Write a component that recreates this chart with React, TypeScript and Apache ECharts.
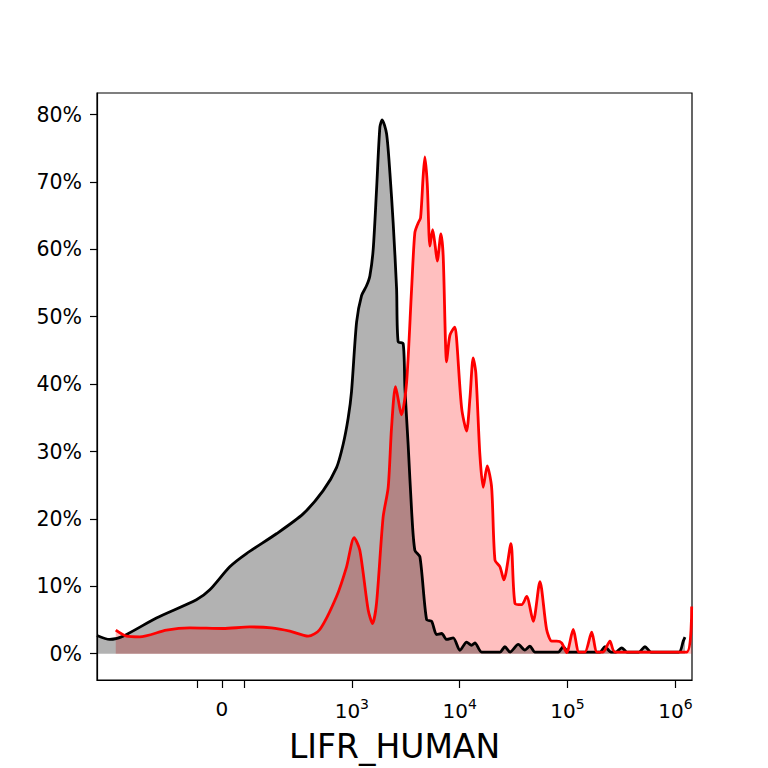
import React, { useEffect, useRef } from 'react';
import * as echarts from 'echarts';

// x positions are in display units of the biexponential axis (one unit = one decade)
const xTickValues = [1.565, 1.794, 2.001, 3, 4, 5, 6];
const xLabelValues = [1.794, 3, 4, 5, 6];
const xLabelTexts = ['{z|0}', '{b|10}{s|3}', '{b|10}{s|4}', '{b|10}{s|5}', '{b|10}{s|6}'];
const yTickValues = [0, 10, 20, 30, 40, 50, 60, 70, 80];

// control sample (black) — [display x, % of max]
const controlCurve: [number, number][] = [
    [0.637, 2.71], [0.755, 2.12], [0.878, 2.6], [1.188, 5.3], [1.559, 8.0],
    [1.683, 9.48], [1.868, 12.9], [2.023, 14.86], [2.301, 17.8], [2.548, 20.75],
    [2.734, 24.19], [2.858, 27.62], [2.919, 31.05], [2.966, 34.98], [2.997, 38.9],
    [3.044, 49.2], [3.09, 53.12], [3.136, 54.59], [3.167, 56.06], [3.198, 59.99],
    [3.229, 68.82], [3.26, 78.13], [3.281, 79.22], [3.322, 77.16], [3.353, 71.32],
    [3.383, 63.96], [3.415, 54.1], [3.429, 46.31], [3.476, 46.01], [3.492, 39.39],
    [3.522, 31.05], [3.554, 21.25], [3.584, 15.36], [3.631, 14.38], [3.693, 5.06],
    [3.74, 4.81], [3.786, 2.85], [3.833, 3.0], [3.879, 2.12], [3.94, 2.35],
    [4.002, 0.5], [4.064, 1.72], [4.11, 1.24], [4.141, 1.62], [4.203, 0.25],
    [4.373, 0.25], [4.419, 1.03], [4.466, 0.25], [4.543, 1.38], [4.605, 0.54],
    [4.651, 1.13], [4.698, 0.25], [4.914, 0.25], [4.96, 1.03], [5.008, 0.25],
    [5.3, 0.25], [5.347, 1.03], [5.403, 0.25], [5.449, 0.25], [5.502, 0.88],
    [5.551, 0.25], [5.662, 0.25], [5.718, 1.03], [5.774, 0.25], [6.033, 0.25],
    [6.073, 1.87], [6.089, 2.46],
];

// stained sample (red)
const stainedCurve: [number, number][] = [
    [0.811, 3.49], [0.91, 2.6], [1.033, 2.5], [1.281, 3.49], [1.497, 3.83],
    [1.806, 3.74], [2.054, 3.97], [2.255, 3.83], [2.425, 3.34], [2.595, 2.6],
    [2.703, 3.59], [2.858, 8.49], [2.951, 12.9], [3.021, 17.22], [3.074, 15.36],
    [3.151, 6.53], [3.192, 4.47], [3.229, 7.5], [3.29, 20.26], [3.337, 24.68],
    [3.368, 33.51], [3.405, 39.64], [3.461, 35.46], [3.507, 40.1], [3.554, 54.1],
    [3.584, 62.45], [3.615, 63.92], [3.637, 64.66], [3.661, 70.78], [3.677, 73.72],
    [3.699, 69.81], [3.724, 60.48], [3.749, 62.93], [3.773, 60.48], [3.792, 58.27],
    [3.826, 62.3], [3.847, 59.01], [3.879, 43.32], [3.909, 47.23], [3.955, 48.47],
    [3.971, 46.75], [4.018, 36.45], [4.064, 33.02], [4.095, 37.92], [4.125, 43.91],
    [4.15, 41.6], [4.187, 29.58], [4.218, 24.68], [4.255, 27.87], [4.296, 24.68],
    [4.327, 13.89], [4.373, 12.9], [4.41, 10.95], [4.475, 16.33], [4.512, 7.5],
    [4.574, 7.27], [4.621, 8.49], [4.682, 4.81], [4.744, 10.7], [4.806, 3.59],
    [4.853, 1.87], [4.899, 1.87], [4.945, 1.62], [4.992, 0.15], [5.053, 3.59],
    [5.106, 0.25], [5.161, 0.25], [5.224, 3.19], [5.273, 0.25], [5.329, 0.25],
    [5.393, 1.87], [5.44, 0.25], [6.105, 0.25], [6.151, 7.0],
];

const FONT = 'DejaVu Sans';

const App: React.FC = () => {
    const chartRef = useRef<HTMLDivElement>(null);

    useEffect(() => {
        if (!chartRef.current) return;
        const chart = echarts.init(chartRef.current, undefined, { renderer: 'svg' });

        const option: echarts.EChartsOption = {
            animation: false,
            backgroundColor: '#fff',
            grid: {
                left: 97,
                top: 93,
                right: 76,
                bottom: 84,
                show: true,
                borderColor: '#000',
                borderWidth: 1.2,
                backgroundColor: 'transparent',
            },
            xAxis: {
                type: 'value',
                min: 0.637,
                max: 6.154,
                name: 'LIFR_HUMAN',
                nameLocation: 'middle',
                nameGap: 50,
                nameTextStyle: { fontFamily: FONT, fontSize: 33, color: '#000' },
                axisLine: { show: true, onZero: false, lineStyle: { color: '#000', width: 1.2 } },
                axisTick: {
                    show: true,
                    length: 8,
                    lineStyle: { color: '#000', width: 1.2 },
                    customValues: xTickValues,
                } as any,
                axisLabel: {
                    customValues: xLabelValues,
                    margin: 17,
                    fontFamily: FONT,
                    color: '#000',
                    formatter: (v: number) => {
                        const i = xLabelValues.findIndex((t) => Math.abs(t - v) < 1e-6);
                        return i >= 0 ? xLabelTexts[i] : '';
                    },
                    rich: {
                        z: { fontFamily: FONT, fontSize: 20, color: '#000', verticalAlign: 'middle', lineHeight: 24 },
                        b: { fontFamily: FONT, fontSize: 20, color: '#000', verticalAlign: 'bottom', lineHeight: 24 },
                        s: { fontFamily: FONT, fontSize: 14, color: '#000', verticalAlign: 'top', lineHeight: 24 },
                    },
                } as any,
                splitLine: { show: false },
            },
            yAxis: {
                type: 'value',
                min: -3.9,
                max: 83.2,
                axisLine: { show: true, onZero: false, lineStyle: { color: '#000', width: 1.2 } },
                axisTick: {
                    show: true,
                    length: 7,
                    lineStyle: { color: '#000', width: 1.2 },
                    customValues: yTickValues,
                } as any,
                axisLabel: {
                    customValues: yTickValues,
                    margin: 15,
                    fontFamily: FONT,
                    fontSize: 20.5,
                    color: '#000',
                    formatter: (v: number) => `${v}%`,
                } as any,
                splitLine: { show: false },
            },
            series: [
                {
                    type: 'line',
                    data: stainedCurve,
                    smooth: 0.25,
                    showSymbol: false,
                    lineStyle: { width: 0 },
                    areaStyle: { color: '#ff0000', opacity: 0.25, origin: 0 },
                    z: 1,
                },
                {
                    type: 'line',
                    data: controlCurve,
                    smooth: 0.25,
                    showSymbol: false,
                    lineStyle: { width: 0 },
                    areaStyle: { color: '#000', opacity: 0.3, origin: 0 },
                    z: 2,
                },
                {
                    type: 'line',
                    data: controlCurve,
                    smooth: 0.25,
                    showSymbol: false,
                    lineStyle: { color: '#000', width: 2.8 },
                    z: 3,
                },
                {
                    type: 'line',
                    data: stainedCurve,
                    smooth: 0.25,
                    showSymbol: false,
                    lineStyle: { color: '#ff0000', width: 2.8 },
                    z: 4,
                },
            ],
        };

        chart.setOption(option);
        return () => chart.dispose();
    }, []);

    return (
        <div
            ref={chartRef}
            style={{ position: 'fixed', left: 0, top: 0, width: 768, height: 768, background: '#fff' }}
        />
    );
};

export default App;
